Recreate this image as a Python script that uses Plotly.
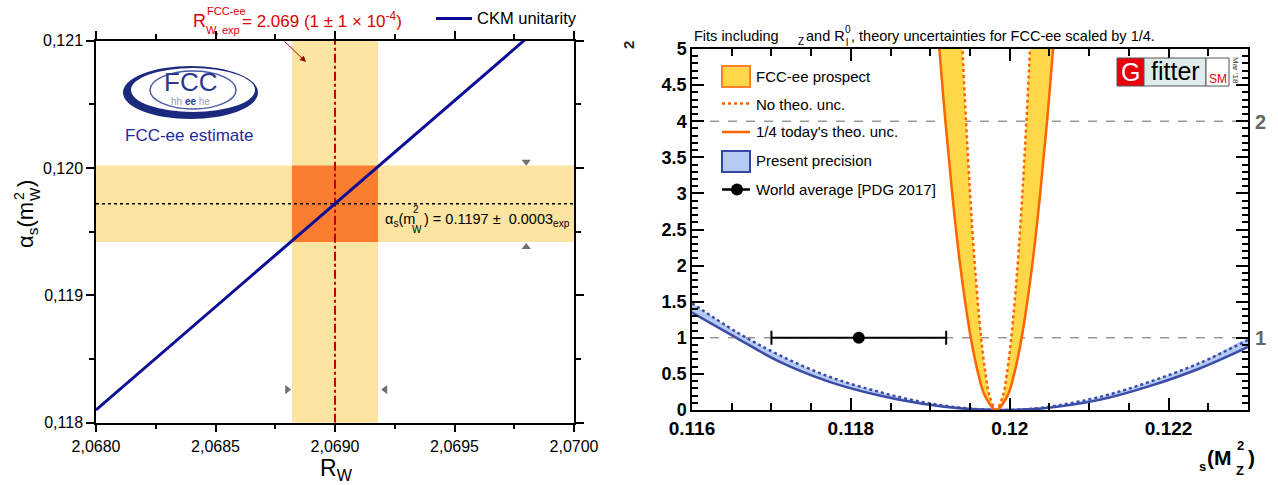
import plotly.graph_objects as go

W, H = 1278, 485

# ---------------- data: left panel ----------------
RW_TICKS = [2.0680, 2.0685, 2.0690, 2.0695, 2.0700]
RW_TICKTEXT = ["2,0680", "2,0685", "2,0690", "2,0695", "2,0700"]
AS_TICKS = [0.118, 0.119, 0.120, 0.121]
AS_TICKTEXT = ["0,118", "0,119", "0,120", "0,121"]
RW_RANGE = [2.0680, 2.0700]
AS_RANGE = [0.1180, 0.1210]
RW_CENTER = 2.0690
RW_BAND = [2.06882, 2.06918]
AS_CENTER = 0.11972
AS_BAND = [0.11942, 0.12002]
CKM_X = [2.0680, 2.0700]
CKM_Y = [0.11810, 0.12134]
TRI_V_X = [2.0698, 2.0698]
TRI_V_Y = [0.12005, 0.11938]
TRI_H_X = [2.06880, 2.06921]
TRI_H_Y = [0.11826, 0.11826]

# ---------------- data: right panel ----------------
ALS_RANGE = [0.116, 0.123]
ALS_TICKS = [0.116, 0.118, 0.120, 0.122]
ALS_TICKTEXT = ["0.116", "0.118", "0.12", "0.122"]
CHI_RANGE = [0, 5]
CHI_TICKS = [0, 0.5, 1, 1.5, 2, 2.5, 3, 3.5, 4, 4.5, 5]
CHI_TICKTEXT = ["0", "0.5", "1", "1.5", "2", "2.5", "3", "3.5", "4", "4.5", "5"]

PRES_X = [0.1160, 0.11656, 0.1171, 0.11773, 0.11836, 0.1189, 0.1194, 0.1199,
          0.1204, 0.12113, 0.12176, 0.12239, 0.1230]
PRES_SOLID = [1.35, 1.00, 0.67, 0.39, 0.20, 0.085, 0.02, 0.0, 0.022, 0.14, 0.33, 0.575, 0.875]
PRES_DOTTED = [1.48, 1.08, 0.76, 0.46, 0.25, 0.11, 0.03, 0.0, 0.03, 0.18, 0.39, 0.65, 0.97]

FCC_SOLID_X = [0.119093, 0.119114, 0.11919, 0.119276, 0.119377, 0.11951, 0.119604, 0.119687,
               0.11983, 0.119973, 0.120056, 0.12015, 0.120283, 0.120384, 0.12047, 0.120546, 0.120567]
FCC_DOT_X = [0.119393, 0.119405, 0.11945, 0.119501, 0.119561, 0.11964, 0.119696, 0.119745,
             0.11983, 0.119915, 0.119964, 0.12002, 0.120099, 0.120159, 0.12021, 0.120255, 0.120267]
FCC_Y = [5.3, 5.0, 4.0, 3.0, 2.0, 1.0, 0.5, 0.2, 0.0, 0.2, 0.5, 1.0, 2.0, 3.0, 4.0, 5.0, 5.3]

WA_X = [0.1181]
WA_Y = [1.0]
WA_ERR = [0.0011]
DASH_LEVELS = [1, 4]

FONT = "Liberation Sans, Arial, sans-serif"


def fx(p):
    return p / W


def fy(p):
    return 1 - p / H


annotations = []


def ann(text, x, y, size, color="black", xanchor="left", yanchor="middle",
        angle=0, weight="normal"):
    annotations.append(dict(
        text=text, x=fx(x), y=fy(y), xref="paper", yref="paper",
        xanchor=xanchor, yanchor=yanchor, showarrow=False, textangle=angle,
        borderpad=0,
        font=dict(family=FONT, size=size, color=color, weight=weight)))


fig = go.Figure()

# ---------------- left panel traces ----------------
fig.add_trace(go.Scatter(x=[RW_CENTER, RW_CENTER], y=AS_RANGE, mode="lines",
                         line=dict(color="#c00000", width=2, dash="dashdot"),
                         xaxis="x", yaxis="y", showlegend=False))
fig.add_trace(go.Scatter(x=RW_RANGE, y=[AS_CENTER, AS_CENTER], mode="lines",
                         line=dict(color="black", width=1.5, dash="dot"),
                         xaxis="x", yaxis="y", showlegend=False))
fig.add_trace(go.Scatter(x=CKM_X, y=CKM_Y, mode="lines",
                         line=dict(color="#0c0c96", width=3),
                         xaxis="x", yaxis="y", showlegend=False))
fig.add_trace(go.Scatter(x=TRI_V_X, y=TRI_V_Y, mode="markers",
                         marker=dict(symbol=["triangle-down", "triangle-up"], size=8,
                                     color="#707070"),
                         xaxis="x", yaxis="y", showlegend=False))
fig.add_trace(go.Scatter(x=TRI_H_X, y=TRI_H_Y, mode="markers",
                         marker=dict(symbol=["triangle-right", "triangle-left"], size=8,
                                     color="#707070"),
                         xaxis="x", yaxis="y", showlegend=False))

# ---------------- right panel traces ----------------
fig.add_trace(go.Scatter(x=PRES_X + PRES_X[::-1], y=PRES_SOLID + PRES_DOTTED[::-1],
                         mode="lines", fill="toself", fillcolor="#b6cbf4",
                         line=dict(width=0, shape="spline"),
                         xaxis="x2", yaxis="y2", showlegend=False))
fig.add_trace(go.Scatter(x=PRES_X, y=PRES_SOLID, mode="lines",
                         line=dict(color="#3a4ca6", width=2.5, shape="spline"),
                         xaxis="x2", yaxis="y2", showlegend=False))
fig.add_trace(go.Scatter(x=PRES_X, y=PRES_DOTTED, mode="lines",
                         line=dict(color="#3a4ca6", width=2.5, dash="dot", shape="spline"),
                         xaxis="x2", yaxis="y2", showlegend=False))
for lvl in DASH_LEVELS:
    fig.add_trace(go.Scatter(x=ALS_RANGE, y=[lvl, lvl], mode="lines",
                             line=dict(color="#666666", width=1, dash="dash"),
                             xaxis="x2", yaxis="y2", showlegend=False))
fig.add_trace(go.Scatter(x=FCC_SOLID_X + FCC_DOT_X[::-1], y=FCC_Y + FCC_Y[::-1],
                         mode="lines", fill="toself", fillcolor="#ffd84a",
                         line=dict(width=0, shape="spline"),
                         xaxis="x2", yaxis="y2", showlegend=False))
fig.add_trace(go.Scatter(x=FCC_SOLID_X, y=FCC_Y, mode="lines",
                         line=dict(color="#ff6400", width=2.5, shape="spline"),
                         xaxis="x2", yaxis="y2", showlegend=False))
fig.add_trace(go.Scatter(x=FCC_DOT_X, y=FCC_Y, mode="lines",
                         line=dict(color="#ff6400", width=2.5, dash="dot", shape="spline"),
                         xaxis="x2", yaxis="y2", showlegend=False))
fig.add_trace(go.Scatter(x=WA_X, y=WA_Y, mode="markers",
                         marker=dict(color="black", size=12),
                         error_x=dict(type="data", array=WA_ERR, color="black",
                                      thickness=2, width=7),
                         xaxis="x2", yaxis="y2", showlegend=False))

# ---------------- shapes ----------------
shapes = [
    dict(type="rect", xref="x", yref="y", x0=RW_BAND[0], x1=RW_BAND[1],
         y0=AS_RANGE[0], y1=AS_RANGE[1], fillcolor="#fde4a0", line_width=0, layer="below"),
    dict(type="rect", xref="x", yref="y", x0=RW_RANGE[0], x1=RW_RANGE[1],
         y0=AS_BAND[0], y1=AS_BAND[1], fillcolor="#fde4a0", line_width=0, layer="below"),
    dict(type="rect", xref="x", yref="y", x0=RW_BAND[0], x1=RW_BAND[1],
         y0=AS_BAND[0], y1=AS_BAND[1], fillcolor="#fb7d30", line_width=0, layer="below"),
]


def prect(x0, y0, x1, y1, fill, line=None, lw=0):
    shapes.append(dict(type="rect", xref="paper", yref="paper",
                       x0=fx(x0), x1=fx(x1), y0=fy(y1), y1=fy(y0),
                       fillcolor=fill, line=dict(color=line or fill, width=lw)))


def pline(x0, y0, x1, y1, color, width, dash="solid"):
    shapes.append(dict(type="line", xref="paper", yref="paper",
                       x0=fx(x0), x1=fx(x1), y0=fy(y0), y1=fy(y1),
                       line=dict(color=color, width=width, dash=dash)))


def pellipse(x0, y0, x1, y1, fill, line=None, lw=0):
    shapes.append(dict(type="circle", xref="paper", yref="paper",
                       x0=fx(x0), x1=fx(x1), y0=fy(y1), y1=fy(y0),
                       fillcolor=fill, line=dict(color=line or fill, width=lw)))


# FCC logo
pellipse(123, 66, 258, 119, "#1c2a7e")
pellipse(131, 68, 255, 112, "white")
pellipse(150, 71, 236, 109, "white", "#4a5aa8", 1.5)
ann("FCC", 190, 82, 26, "#2b3990", xanchor="center")
ann("<span style='color:#9a9cb0'>hh</span> <b>ee</b> <span style='color:#9a9cb0'>he</span>",
    190, 101, 10, "#2b3990", xanchor="center")
ann("FCC-ee estimate", 189, 135, 17, "#1f2a9a", xanchor="center")

# left panel legend + title
pline(436, 18.5, 472, 18.5, "#0c0c96", 3)
ann("CKM unitarity", 476, 18.5, 16.5)
ann("R", 192, 21, 18, "#e00000")
ann("FCC-ee", 206, 11, 11, "#e00000")
ann("W, exp", 205, 30, 11, "#e00000")
ann("= 2.069 (1 ± 1 × 10<sup>-4</sup>)", 241, 20, 17, "#e00000")
annotations.append(dict(x=fx(306), y=fy(62), ax=-23, ay=-22,
                        xref="paper", yref="paper", axref="pixel", ayref="pixel",
                        showarrow=True, arrowhead=2, arrowsize=1.2, arrowwidth=1,
                        arrowcolor="#a00000", text=""))

# band label
ann("α<sub>s</sub>(m", 384, 220, 14.5)
ann("2", 412, 209, 10)
ann("W", 411, 229, 10)
ann(") = 0.1197 ±  0.0003<sub>exp</sub>", 423, 220, 14.5)

# left axis titles
ann("R<sub>W</sub>", 336, 469, 23, xanchor="center")
ann("α<sub>s</sub>(m", 27, 225, 22, xanchor="center", angle=-90)
ann("2", 19, 196, 14, xanchor="center", angle=-90)
ann("W", 35, 194, 14, xanchor="center", angle=-90)
ann(")", 25, 184, 22, xanchor="center", angle=-90)

# right panel title
ann("Fits including", 693, 36, 14.5)
ann("Z", 797, 41, 10)
ann("and R", 805, 36, 14.5)
ann("0", 844, 29, 10)
ann("l", 845, 42, 10)
ann(", theory uncertainties for FCC-ee scaled by 1/4.", 850, 36, 14.5)

# right panel axis titles
ann("2", 628, 45, 15, "#222222", xanchor="center", angle=-90, weight="bold")
ann("s", 1198, 466, 13, weight="bold")
ann("(M", 1206, 457, 21, weight="bold")
ann("2", 1236, 445, 13, weight="bold")
ann("Z", 1235, 470, 13, weight="bold")
ann(")", 1247, 457, 21, weight="bold")

# right side sigma labels
ann("1", 1254, 338, 20, "#666666", weight="bold")
ann("2", 1254, 122, 20, "#666666", weight="bold")

# right legend
prect(722, 66, 750, 87, "#ffd84a", "#ff7f2a", 2)
ann("FCC-ee prospect", 755, 76, 15)
pline(722, 103.5, 750, 103.5, "#ff6400", 2.5, "dot")
ann("No theo. unc.", 755, 104, 15)
pline(722, 132, 750, 132, "#ff6400", 2.5)
ann("1/4 today's theo. unc.", 755, 132, 15)
prect(722, 151, 750, 172, "#b6cbf4", "#3548a8", 2)
ann("Present precision", 755, 161, 15)
pline(722, 189.5, 750, 189.5, "black", 2.5)
pellipse(731, 183.5, 743, 195.5, "black")
ann("World average [PDG 2017]", 755, 190, 15)

# Gfitter logo
prect(1117, 58, 1144, 86, "#e8000b", "#555555", 1)
prect(1144, 58, 1206, 86, "#dfeceb", "#555555", 1)
prect(1206, 58, 1229, 86, "white", "#555555", 1)
ann("G", 1130.5, 72, 25, "white", xanchor="center")
ann("fitter", 1175, 71, 25, "black", xanchor="center")
ann("SM", 1217.5, 79, 12, "#e8000b", xanchor="center")
ann("Mar '18", 1235, 70, 8, "#333333", xanchor="center", angle=90)

axis_common = dict(showgrid=False, zeroline=False, showline=True, linecolor="black",
                   mirror="ticks", tickcolor="black", automargin=False)

fig.update_layout(
    width=W, height=H, margin=dict(l=0, r=0, t=0, b=0, pad=0, autoexpand=False),
    paper_bgcolor="white", plot_bgcolor="white", showlegend=False,
    font=dict(family=FONT, color="black"),
    xaxis=dict(domain=[fx(96), fx(574)], range=RW_RANGE, tickvals=RW_TICKS,
               ticktext=RW_TICKTEXT, ticks="outside", ticklen=8, tickwidth=1.5,
               linewidth=1.5, tickfont=dict(size=16, family=FONT),
               minor=dict(ticks="outside", dtick=0.00025, tick0=2.068, ticklen=5,
                          tickcolor="black"),
               anchor="y", **axis_common),
    yaxis=dict(domain=[fy(422.7), fy(40.7)], range=AS_RANGE, tickvals=AS_TICKS,
               ticktext=AS_TICKTEXT, ticks="outside", ticklen=8, tickwidth=1.5,
               linewidth=1.5, tickfont=dict(size=16, family=FONT),
               minor=dict(ticks="outside", dtick=0.0005, tick0=0.118, ticklen=5,
                          tickcolor="black"),
               anchor="x", **axis_common),
    xaxis2=dict(domain=[fx(692), fx(1248)], range=ALS_RANGE, tickvals=ALS_TICKS,
                ticktext=ALS_TICKTEXT, ticks="inside", ticklen=12, tickwidth=1.5,
                linewidth=1.5, tickfont=dict(size=19, family=FONT, weight="bold"),
                minor=dict(ticks="inside", dtick=0.0005, tick0=0.116, ticklen=7,
                           tickcolor="black"),
                anchor="y2", **axis_common),
    yaxis2=dict(domain=[fy(410), fy(49)], range=CHI_RANGE, tickvals=CHI_TICKS,
                ticktext=CHI_TICKTEXT, ticks="inside", ticklen=12, tickwidth=1.5,
                linewidth=1.5, tickfont=dict(size=18, family=FONT, weight="bold"),
                minor=dict(ticks="inside", dtick=0.1, tick0=0, ticklen=6,
                           tickcolor="black"),
                anchor="x2", **axis_common),
    shapes=shapes,
    annotations=annotations,
)

fig.write_html("out.html")
